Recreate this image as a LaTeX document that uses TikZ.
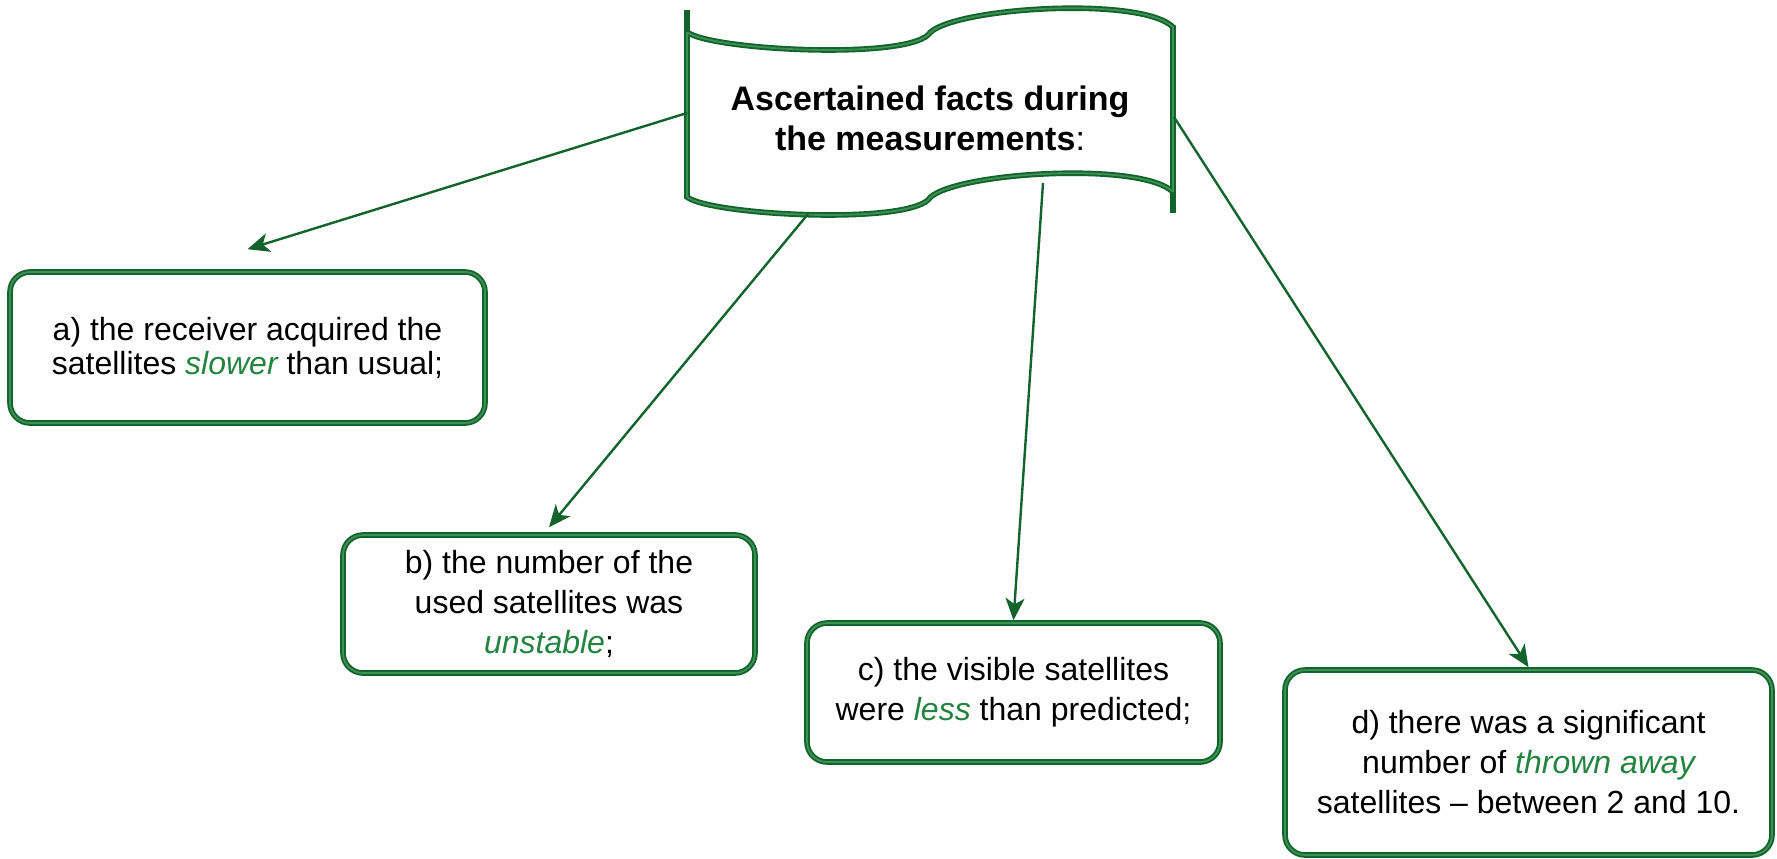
\documentclass[tikz,border=0pt]{standalone}
\usepackage{fontspec}
\setmainfont{Liberation Sans}
\usepackage{xcolor}
\usetikzlibrary{arrows.meta}
\definecolor{edgegreen}{RGB}{18,100,44}
\definecolor{litegreen}{RGB}{62,145,84}
\definecolor{wordgreen}{RGB}{34,132,64}
\newcommand{\gword}[1]{{\color{wordgreen}\itshape #1}}

\begin{document}
\begin{tikzpicture}[x=0.5pt,y=-0.5pt,
  fact/.style={draw=edgegreen, line width=2.8pt, rounded corners=10pt, fill=white,
    align=center, inner sep=0pt, font=\fontsize{16}{20}\selectfont,
    postaction={draw=litegreen, line width=0.9pt}},
  link/.style={-{Stealth[length=11pt,width=9.5pt,inset=3pt]}, draw=edgegreen, line width=1.2pt}]
\useasboundingbox (0,0) rectangle (1777,858);

% banner %
\draw[fill=white, draw=edgegreen, line width=2.8pt, postaction={draw=litegreen, line width=0.9pt}]
  (687,32) .. controls (710,50) and (900,60) .. (928,35)
  .. controls (945,8) and (1140,-5) .. (1173,27) -- (1173,192)
  .. controls (1140,160) and (945,173) .. (928,200)
  .. controls (900,225) and (710,215) .. (687,197) -- cycle;
\draw[edgegreen, line width=2.8pt] (687,10) -- (687,32); % stub top left %
\draw[edgegreen, line width=2.8pt] (1173,192) -- (1173,213); % stub bottom right %
\node[font=\fontsize{17}{20}\selectfont, align=center] (title) at (930,118)
  {\textbf{Ascertained facts during}\\\textbf{the measurements}:};

% facts %
\node[fact, minimum width=237.5pt, minimum height=75.5pt, font=\fontsize{16}{17}\selectfont] (a) at (247.5,347.5)
  {a) the receiver acquired the\\satellites \gword{slower} than usual;};
\node[fact, minimum width=206pt, minimum height=69pt] (b) at (549,604)
  {b) the number of the\\used satellites was\\\gword{unstable};};
\node[fact, minimum width=206.5pt, minimum height=69.5pt] (c) at (1013.5,692.5)
  {c) the visible satellites\\were \gword{less} than predicted;};
\node[fact, minimum width=243.5pt, minimum height=92.5pt] (d) at (1528.5,762.5)
  {d) there was a significant\\number of \gword{thrown away}\\satellites \textendash{} between 2 and 10.};

% arrows %
\coordinate (sa) at (687,113);
\coordinate (sb) at (808,214);
\coordinate (sc) at (1043,183);
\coordinate (sd) at (1174,117);
\draw[link] (sa) -- ([yshift=10pt]a.north);
\draw[link] (sb) -- ([yshift=2.5pt]b.north);
\draw[link] (sc) -- (c.north);
\draw[link] (sd) -- (d.north);
\end{tikzpicture}
\end{document}
